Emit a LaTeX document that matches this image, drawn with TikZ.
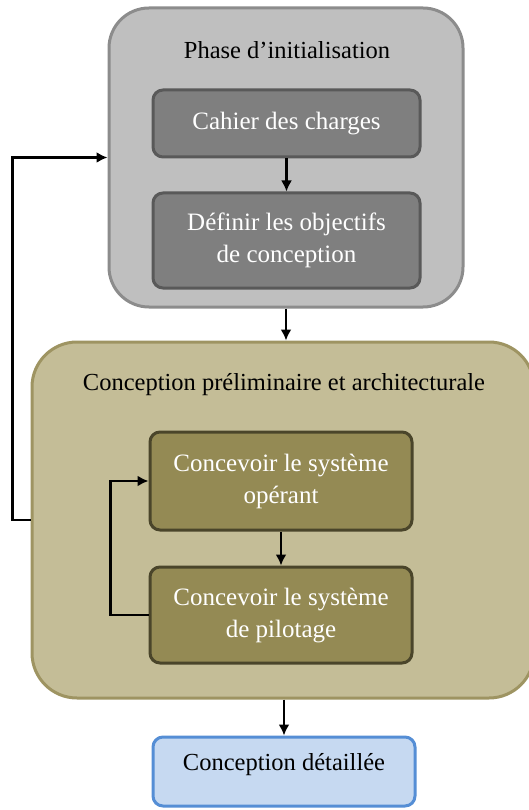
\documentclass[tikz,border=0pt]{standalone}
\usepackage{fontspec}
\setmainfont{Liberation Serif}
\usetikzlibrary{arrows.meta,positioning}
\definecolor{grayout}{HTML}{BFBFBF}
\definecolor{grayoutb}{HTML}{8C8C8C}
\definecolor{grayin}{HTML}{7F7F7F}
\definecolor{grayinb}{HTML}{595959}
\definecolor{oliveout}{HTML}{C4BD97}
\definecolor{oliveoutb}{HTML}{9E9462}
\definecolor{olivein}{HTML}{948A54}
\definecolor{oliveinb}{HTML}{4A452A}
\definecolor{bluein}{HTML}{C6D9F1}
\definecolor{blueinb}{HTML}{558ED5}
\tikzset{
  x=1pt,y=-1pt,
  outerbox/.style={draw, line width=3pt, rounded corners=40pt, inner sep=0pt},
  innerbox/.style={draw, line width=3pt, rounded corners=10pt, inner sep=0pt, text=white, align=center, font=\fontsize{25}{32}\selectfont},
  titletext/.style={font=\fontsize{24.5}{28}\selectfont, text=black},
  arr/.style={draw=black, line width=2.6pt, -{Latex[length=11pt,width=11pt]}},
}
\begin{document}
\begin{tikzpicture}
\useasboundingbox[fill=white] (0,0) rectangle (529,810);
\begin{scope}
\clip (0,0) rectangle (529,810);
% outer boxes
\node[outerbox, fill=grayout, draw=grayoutb, minimum width=354pt, minimum height=299pt] (top) at (286,157.5) {};
\node[titletext] (toptitle) at (287,50) {Phase d’initialisation};
\node[outerbox, rounded corners=45pt, fill=oliveout, draw=oliveoutb, minimum width=502pt, minimum height=356pt] (big) at (283,520) {};
\node[titletext] (bigtitle) at (284,385) {Conception préliminaire et architecturale};
% inner boxes
\node[innerbox, fill=grayin, draw=grayinb, minimum width=267pt, minimum height=67pt] (cahier) at (286.5,123.5) {Cahier des charges};
\node[innerbox, fill=grayin, draw=grayinb, minimum width=267pt, minimum height=95pt] (definir) at (286.5,240.5) {Définir les objectifs\\de conception};
\node[innerbox, fill=olivein, draw=oliveinb, minimum width=262pt, minimum height=98pt] (op) at (281,481) {Concevoir le système\\opérant};
\node[innerbox, fill=olivein, draw=oliveinb, minimum width=262pt, minimum height=96pt] (pil) at (281,615) {Concevoir le système\\de pilotage};
\node[innerbox, fill=bluein, draw=blueinb, text=black, minimum width=262pt, minimum height=69pt] (det) at (284,771.5) {};
\node[titletext] (dettext) at (284,765) {Conception détaillée};
% arrows
\draw[arr] (cahier.south) -- (definir.north);
\draw[arr] (top.south) -- (big.north -| top.south);
\draw[arr] (op.south) -- (pil.north);
\draw[arr] (big.south -| det.north) -- (det.north);
\draw[arr] (big.west) -- ++(-18,0) |- (top.west);
\draw[arr] (pil.west) -- ++(-38,0) |- (op.west);
\end{scope}
\end{tikzpicture}
\end{document}
